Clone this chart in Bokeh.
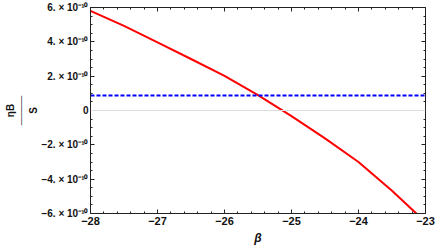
from bokeh.plotting import figure
from bokeh.models import (FixedTicker, CustomJSTickFormatter, LinearAxis, Title, Span, Range1d)
from bokeh.embed import file_html
from bokeh.resources import INLINE

# data
beta = [-28.0, -27.5, -27.0, -26.5, -26.0, -25.5, -25.0, -24.5, -24.0, -23.5, -23.12]
eta_b_over_s = [5.80e-10, 4.93e-10, 3.97e-10, 3.00e-10, 2.02e-10, 0.90e-10, -0.33e-10,
                -1.62e-10, -3.00e-10, -4.68e-10, -6.06e-10]
observed = 0.87e-10
x_ticks = [-28, -27, -26, -25, -24, -23]
y_ticks = [-6e-10, -4e-10, -2e-10, 0, 2e-10, 4e-10, 6e-10]

p = figure(width=436, height=247, output_backend="svg", toolbar_location=None,
           x_range=Range1d(-28, -23), y_range=Range1d(-6e-10, 6e-10),
           min_border_left=90, min_border_right=11, min_border_top=7, min_border_bottom=34,
           x_axis_label="β")
p.grid.visible = False
p.outline_line_color = None
p.background_fill_color = "white"

x_minor = [-28 + i * 0.2 for i in range(26)]
y_minor = [(-6 + i * 0.5) * 1e-10 for i in range(25)]
xt = FixedTicker(ticks=x_ticks, minor_ticks=x_minor)
yt = FixedTicker(ticks=y_ticks, minor_ticks=y_minor)

yfmt = CustomJSTickFormatter(code="""
if (Math.abs(tick) < 1e-14) return "0";
const m = Math.round(tick / 1e-10);
return (m < 0 ? "\u2212" : "") + Math.abs(m) + ". \u00d7 10\u207b\u00b9\u2070";
""")
xfmt = CustomJSTickFormatter(code="""
const m = Math.round(tick);
return (m < 0 ? "\u2212" : "") + Math.abs(m);
""")
blank = CustomJSTickFormatter(code="return '';")

def style(ax, ticker, size):
    ax.ticker = ticker
    ax.major_tick_in = 4
    ax.major_tick_out = 0
    ax.minor_tick_in = 2
    ax.minor_tick_out = 0
    ax.axis_line_color = "#222222"
    ax.major_tick_line_color = "#222222"
    ax.minor_tick_line_color = "#222222"
    ax.major_label_text_font = "Liberation Sans"
    ax.major_label_text_font_style = "bold"
    ax.major_label_text_font_size = size
    ax.major_label_text_color = "#111111"

style(p.xaxis[0], xt, "11px")
style(p.yaxis[0], yt, "10px")
p.xaxis[0].formatter = xfmt
p.yaxis[0].formatter = yfmt
p.xaxis[0].major_label_standoff = 3
p.yaxis[0].major_label_standoff = 2
p.xaxis[0].axis_label_standoff = 3
p.xaxis[0].axis_label_text_font = "Liberation Sans"
p.xaxis[0].axis_label_text_font_style = "bold italic"
p.xaxis[0].axis_label_text_font_size = "12px"
p.xaxis[0].axis_label_text_color = "#111111"

top = LinearAxis(formatter=blank)
right = LinearAxis(formatter=blank)
style(top, FixedTicker(ticks=x_ticks, minor_ticks=x_minor), "11px")
style(right, FixedTicker(ticks=y_ticks, minor_ticks=y_minor), "11px")
top.major_label_standoff = 0
right.major_label_standoff = 0
p.add_layout(top, "above")
p.add_layout(right, "right")

p.add_layout(Span(location=0, dimension="width", line_color="#dddddd", line_width=1))
p.line(beta, eta_b_over_s, line_color="#ff0000", line_width=2)
p.line([-28, -23], [observed, observed], line_color="#0000ff", line_width=2, line_dash="4 2")

# y-axis label as a stacked fraction (side titles, rotated)
den = Title(text="S", align="center", standoff=0, text_font="Liberation Sans",
            text_font_style="bold", text_font_size="10px", text_color="#111111")
bar = Title(text="\u2500\u2500\u2500\u2500\u2500\u2500\u2500", align="center", standoff=0, text_font="DejaVu Sans Mono",
            text_font_style="bold", text_font_size="7px", text_color="#111111")
num = Title(text="ηB", align="center", standoff=0, text_font="Liberation Sans",
            text_font_style="bold", text_font_size="10px", text_color="#111111")
p.add_layout(den, "left")
p.add_layout(bar, "left")
p.add_layout(num, "left")

open("out.html", "w").write(file_html(p, INLINE))
